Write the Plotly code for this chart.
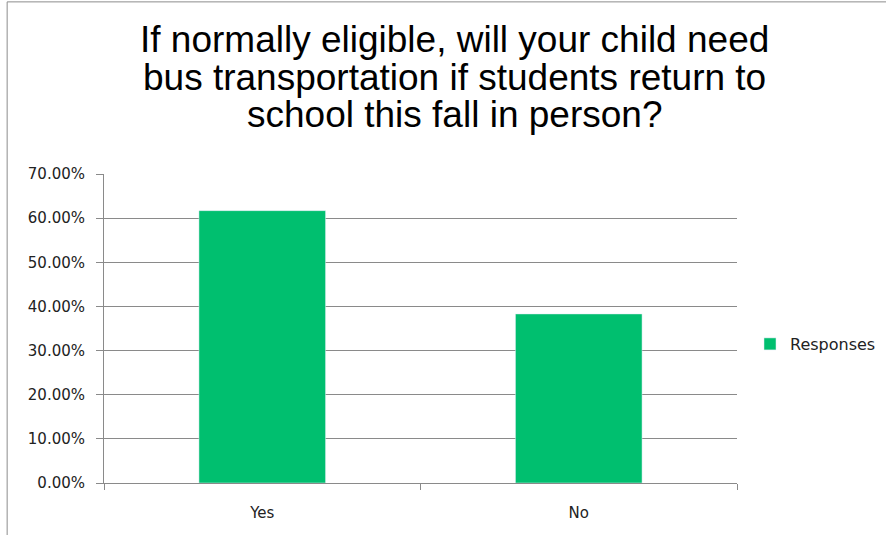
import plotly.graph_objects as go

# Survey responses
categories = ["Yes", "No"]
responses = [0.617, 0.383]

title_lines = [
    "If normally eligible, will your child need",
    "bus transportation if students return to",
    "school this fall in person?",
]

fig = go.Figure()
fig.add_trace(go.Bar(
    x=categories,
    y=responses,
    name="Responses",
    marker=dict(color="#00BF6F"),
    showlegend=True
))

# title drawn as three lines so the line spacing matches
title_y = [1.436, 1.313, 1.193]
for line, yy in zip(title_lines, title_y):
    fig.add_annotation(
        text=line, xref="paper", yref="paper",
        x=0.5537, y=yy, xanchor="center", yanchor="middle",
        showarrow=False,
        font=dict(family="Liberation Sans, Arial", size=37, color="black")
    )

fig.update_layout(
    width=886,
    height=535,
    margin=dict(l=104, r=149, t=174, b=52),
    paper_bgcolor="white",
    plot_bgcolor="white",
    bargap=0.6,
    font=dict(family="DejaVu Sans, Verdana", size=15, color="#222"),
    legend=dict(
        xref="container", yref="container",
        x=0.8465, y=0.357, xanchor="left", yanchor="middle",
        font=dict(size=16, color="#222"),
        itemwidth=30
    ),
    shapes=[dict(
        type="rect", xref="paper", yref="paper",
        x0=-0.153, x1=1.5, y0=-0.5, y1=1.557,
        line=dict(color="#8c8c8c", width=1), layer="below"
    )]
)

fig.update_yaxes(
    range=[0, 0.7],
    dtick=0.1,
    tickformat=".2%",
    showgrid=True,
    gridcolor="#8a8a8a",
    gridwidth=1,
    showline=True,
    linecolor="#8a8a8a",
    ticks="outside",
    ticklen=7,
    tickcolor="#8a8a8a",
    ticklabelstandoff=8,
    zeroline=False,
    automargin=False
)
fig.update_xaxes(
    showline=True,
    linecolor="#8a8a8a",
    ticks="outside",
    tickson="boundaries",
    ticklen=6,
    tickcolor="#8a8a8a",
    showgrid=False,
    ticklabelstandoff=16,
    automargin=False
)

fig.write_html("out.html", config={"displayModeBar": False},
               post_script="document.body.style.margin='0';")
